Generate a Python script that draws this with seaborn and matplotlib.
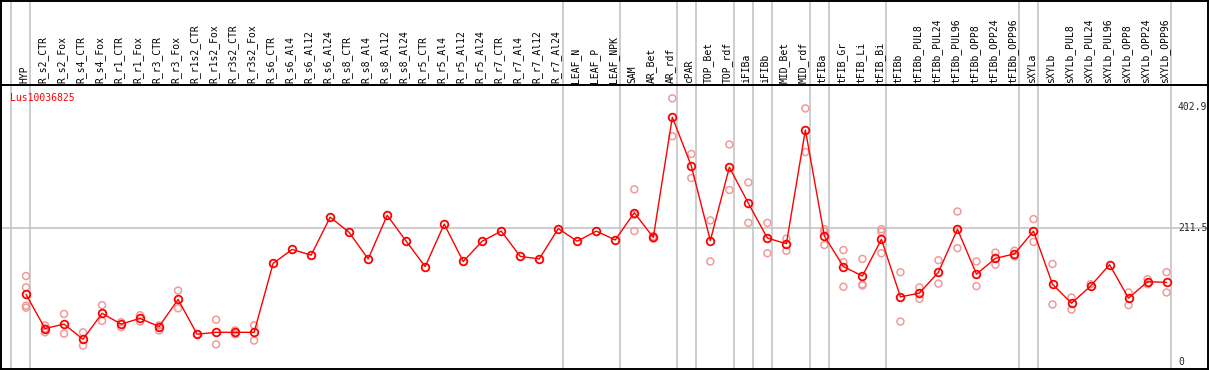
import numpy as np
import pandas as pd
import matplotlib
matplotlib.use("Agg")
import matplotlib.pyplot as plt
import seaborn as sns

N = np.nan

samples = ["HYP", "R_s2_CTR", "R_s2_Fox", "R_s4_CTR", "R_s4_Fox", "R_r1_CTR", "R_r1_Fox",
           "R_r3_CTR", "R_r3_Fox", "R_r1s2_CTR", "R_r1s2_Fox", "R_r3s2_CTR", "R_r3s2_Fox",
           "R_s6_CTR", "R_s6_Al4", "R_s6_Al12", "R_s6_Al24", "R_s8_CTR", "R_s8_Al4",
           "R_s8_Al12", "R_s8_Al24", "R_r5_CTR", "R_r5_Al4", "R_r5_Al12", "R_r5_Al24",
           "R_r7_CTR", "R_r7_Al4", "R_r7_Al12", "R_r7_Al24", "LEAF_N", "LEAF_P", "LEAF_NPK",
           "SAM", "AR_Bet", "AR_rdf", "cPAR", "TOP_Bet", "TOP_rdf", "iFIBa", "iFIBb",
           "MID_Bet", "MID_rdf", "tFIBa", "tFIB_Gr", "tFIB_Li", "tFIB_Bi", "tFIBb",
           "tFIBb_PUL8", "tFIBb_PUL24", "tFIBb_PUL96", "tFIBb_OPP8", "tFIBb_OPP24",
           "tFIBb_OPP96", "sXYLa", "sXYLb", "sXYLb_PUL8", "sXYLb_PUL24", "sXYLb_PUL96",
           "sXYLb_OPP8", "sXYLb_OPP24", "sXYLb_OPP96"]

mean_expr = [107, 53, 60, 36, 77, 60, 69, 56, 99, 44, 47, 47, 47,
             156, 178, 169, 229, 205, 163, 232, 191, 151, 218, 159, 191,
             207, 167, 163, 211, 191, 207, 193,
             236, 197, 387, 310, 192, 308, 251, 196, 187, 367,
             199, 151, 136, 194, 103, 109, 142, 210, 139, 164, 171,
             207, 123, 93, 120, 154, 101, 127, 126]

# replicate values (N = not shown)
rep_a = [136, 58, 76, 47, 90, 63, 74, 58, 113, 44, 67, 50, 58,
         N, N, N, N, N, N, N, N, N, N, N, N, N, N, N, N, N, N, N,
         273, 199, 417, 329, 224, 344, 284, 220, 195, 401,
         210, 177, 163, 210, 142, 118, 161, 238, 159, 173, 176,
         226, 155, 102, 123, N, 110, 131, 142]
rep_b = [86, 47, 45, 26, 65, 55, 64, 50, 85, N, 28, 44, 34,
         N, N, N, N, N, N, N, N, N, N, N, N, N, N, N, N, N, N, N,
         207, 195, 357, 291, 159, 272, 220, 172, 176, 332,
         185, 119, 121, 172, 64, 100, 124, 180, 120, 154, 167,
         190, 91, 83, N, N, 90, 123, 110]
rep_c = [118, 53, N, N, N, N, N, N, N, N, N, N, N,
         N, N, N, N, N, N, N, N, N, N, N, N, N, N, N, N, N, N, N,
         233, N, N, N, N, N, N, N, N, N,
         206, 158, 123, 206, N, N, N, N, N, N, N,
         N, N, N, N, N, N, N, N]
rep_d = [89] + [N] * 60

x_lines = [-1, 0, 28, 31, 34, 35, 37, 38, 39, 41, 42, 45, 52, 53, 60]
y_ticks = [402.9, 211.5, 0]

pos = np.arange(len(samples))
df_mean = pd.DataFrame({"pos": pos, "value": mean_expr})
df_rep = pd.DataFrame({"pos": np.tile(pos, 4),
                       "value": rep_a + rep_b + rep_c + rep_d}).dropna()

sns.set_style("white")
plt.rcParams["font.family"] = ["DejaVu Sans Mono"]

fig = plt.figure(figsize=(12.09, 3.70), dpi=100)
ax_head = fig.add_axes([1 / 1209, 285 / 370, 1207 / 1209, 84 / 370])
ax = fig.add_axes([1 / 1209, 1 / 370, 1207 / 1209, 284 / 370])

xmin, xmax = -1.315, 62.18
for a in (ax_head, ax):
    a.set_xlim(xmin, xmax)
    a.set_xticks([])
    a.set_yticks([])
    for s in a.spines.values():
        s.set_color("black")
        s.set_linewidth(1.4)
    for xl in x_lines:
        a.axvline(xl + 0.23, color="#c0c0c0", linewidth=1.1, zorder=0)

ax_head.set_ylim(0, 1)
for i, name in enumerate(samples):
    ax_head.text(i - 0.1, 0.02, name, rotation=90, ha="center", va="bottom",
                 fontsize=7, color="black")

ax.set_ylim(-11, 438)
ax.axhline(211.5, color="#c0c0c0", linewidth=1.1, zorder=0)

sns.scatterplot(data=df_rep, x="pos", y="value", ax=ax, marker="o", s=25,
                facecolor="none", edgecolor="#f09a9a", linewidth=1.1, zorder=2)
sns.lineplot(data=df_mean, x="pos", y="value", ax=ax, color="red", linewidth=1,
             marker="o", markersize=5.5, markerfacecolor="none", markeredgecolor="red",
             markeredgewidth=1.3, zorder=3)
ax.set_xlabel("")
ax.set_ylabel("")

ax.text(0.0075, 0.972, "Lus10036825", transform=ax.transAxes, color="red",
        fontsize=7, ha="left", va="top")
for v in y_ticks:
    ax.text(1177 / 1207, v, str(v) if v else "0",
            transform=ax.get_yaxis_transform(), ha="left", va="center", fontsize=7)

fig.savefig("out.png", dpi=100)
